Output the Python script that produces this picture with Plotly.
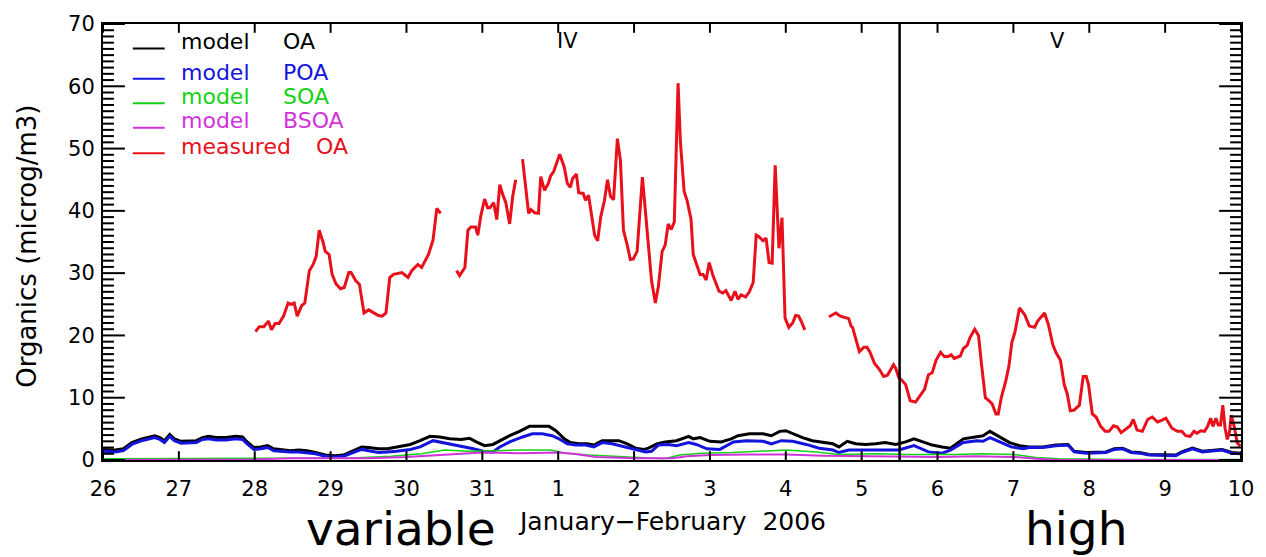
import plotly.graph_objects as go

# Time axis: days since 26 Jan 2006 00:00
tick_days = list(range(16))
tick_text = ["26", "27", "28", "29", "30", "31", "1", "2", "3", "4", "5", "6", "7", "8", "9", "10"]
y_major_step = 10
y_minor_values = list(range(0, 71))

# Measured OA (AMS), gaps marked with None
meas_day = [
    2.01, 2.06, 2.12, 2.18, 2.22, 2.27, 2.32, 2.38, 2.44, 2.48, 2.52, 2.56, 2.62, 2.66, 2.72, 2.77,
    2.81, 2.85, 2.90, 2.93, 2.98, 3.02, 3.07, 3.13, 3.18, 3.24, 3.27, 3.33, 3.38, 3.44, 3.50, 3.56,
    3.63, 3.68, 3.73, 3.78, 3.83, 3.94, 4.02, 4.07, 4.15, 4.20, 4.29, 4.35, 4.40, 4.45,
    4.55,
    4.66, 4.70, 4.77, 4.81, 4.85, 4.91, 4.94, 4.98, 5.03, 5.07, 5.10, 5.15, 5.19, 5.23, 5.27, 5.31,
    5.36, 5.40, 5.44,
    5.48,
    5.53, 5.61, 5.64, 5.69, 5.74, 5.77, 5.82, 5.87, 5.90, 5.94, 6.02, 6.08, 6.12, 6.16, 6.19, 6.24,
    6.27, 6.33, 6.36, 6.40, 6.48, 6.52, 6.56, 6.61, 6.65, 6.69, 6.73, 6.78, 6.82, 6.86, 6.91, 6.95,
    6.99, 7.04, 7.11, 7.18, 7.23, 7.28, 7.32, 7.37, 7.41, 7.45, 7.49, 7.53, 7.58, 7.61, 7.66, 7.70,
    7.75, 7.78, 7.82, 7.87, 7.91, 7.95, 7.99, 8.04, 8.12, 8.17, 8.21, 8.28, 8.33, 8.37, 8.41, 8.47,
    8.52, 8.57, 8.61, 8.65, 8.70, 8.74, 8.78, 8.82, 8.86, 8.91, 8.95, 8.99, 9.04, 9.09, 9.13, 9.17,
    9.21, 9.25,
    9.40,
    9.57, 9.66, 9.72, 9.79, 9.83, 9.86, 9.88, 9.97, 10.03, 10.07, 10.11, 10.17, 10.23, 10.29, 10.34,
    10.42, 10.45, 10.49, 10.53, 10.58, 10.64, 10.71, 10.77, 10.83, 10.88, 10.93, 10.98, 11.04, 11.09,
    11.14, 11.18, 11.22, 11.30, 11.34, 11.39, 11.43, 11.49, 11.54, 11.58, 11.63, 11.68, 11.72, 11.77,
    11.80, 11.84, 11.90, 11.94, 11.98, 12.02, 12.08, 12.15, 12.21, 12.28, 12.32, 12.41, 12.46, 12.52,
    12.56, 12.62, 12.67, 12.71, 12.75, 12.80, 12.87, 12.92, 12.96, 12.99, 13.04, 13.09, 13.15, 13.21,
    13.26, 13.32, 13.37, 13.42, 13.48, 13.54, 13.58, 13.63, 13.70, 13.77, 13.83, 13.90, 13.96, 14.01,
    14.05, 14.09, 14.16, 14.22, 14.27, 14.33, 14.38, 14.42, 14.47, 14.52, 14.56, 14.60, 14.63, 14.67,
    14.70, 14.73, 14.76, 14.79, 14.82, 14.85, 14.87, 14.91, 14.95, 14.99,
]
meas_oa = [
    20.6, 21.4, 21.4, 22.3, 20.9, 21.9, 21.9, 23.1, 25.2, 25.0, 25.2, 23.1, 24.8, 25.2, 30.4, 31.4,
    32.7, 36.9, 35.0, 33.5, 33.0, 29.8, 28.3, 27.5, 27.7, 30.1, 30.1, 28.8, 28.2, 23.6, 24.1, 23.7,
    23.2, 23.1, 23.6, 29.3, 29.8, 30.1, 29.3, 30.4, 31.4, 30.9, 33.0, 35.3, 40.4, 39.6,
    None,
    30.4, 29.6, 30.9, 36.9, 37.4, 37.4, 36.1, 39.2, 41.9, 40.5, 40.5, 41.3, 38.6, 44.2, 42.6, 41.3,
    37.9, 42.3, 45.0,
    None,
    48.3, 39.6, 40.2, 39.7, 39.6, 45.5, 43.3, 44.4, 45.6, 46.3, 49.1, 47.0, 44.4, 43.8, 45.2, 45.9,
    42.9, 42.8, 41.7, 42.5, 36.1, 35.2, 39.0, 41.7, 45.0, 42.3, 41.8, 51.6, 48.1, 36.9, 34.5, 32.2,
    32.3, 33.5, 45.4, 35.0, 28.8, 25.2, 27.8, 33.5, 34.5, 37.9, 37.0, 38.2, 60.5, 51.2, 43.1, 41.6,
    38.7, 33.0, 31.7, 29.8, 29.8, 28.9, 31.7, 29.6, 27.1, 26.8, 27.2, 25.6, 27.1, 25.8, 26.5, 26.2,
    27.0, 28.5, 36.1, 35.8, 35.2, 35.6, 31.7, 31.6, 47.3, 34.0, 38.9, 22.8, 21.3, 22.0, 23.2, 23.1,
    22.1, 20.9,
    None,
    23.0, 23.6, 23.1, 22.8, 22.7, 21.5, 21.3, 17.4, 18.1, 18.1, 17.3, 15.5, 14.6, 13.4, 13.6,
    15.3, 14.7, 13.2, 12.8, 12.1, 9.5, 9.3, 10.3, 11.4, 13.7, 14.0, 16.0, 17.3, 16.6,
    16.6, 16.9, 16.3, 16.7, 17.9, 18.4, 19.7, 21.0, 20.0, 15.3, 10.0, 9.5, 9.0, 7.4,
    7.4, 10.0, 12.7, 15.0, 18.9, 20.5, 24.4, 23.3, 21.5, 21.3, 22.3, 23.6, 21.8, 18.5,
    17.3, 16.0, 12.1, 10.6, 7.9, 8.0, 8.8, 13.4, 13.4, 12.1, 7.4, 6.9, 5.4, 4.6,
    4.6, 5.5, 5.3, 4.4, 4.9, 5.5, 6.5, 4.8, 4.6, 6.5, 6.9, 6.1, 6.4, 6.7,
    5.9, 5.1, 4.6, 4.6, 3.9, 3.8, 4.6, 4.3, 4.7, 4.6, 5.4, 6.7, 5.4, 6.7,
    5.6, 5.6, 8.8, 5.1, 3.3, 4.6, 7.2, 5.4, 2.8, 2.2,
]

# Model total OA
oa_day = [
    0.00, 0.16, 0.27, 0.38, 0.51, 0.59, 0.68, 0.75, 0.81, 0.88, 0.94, 1.03, 1.14, 1.23, 1.31, 1.39,
    1.49, 1.62, 1.75, 1.84, 1.90, 1.99, 2.08, 2.17, 2.25, 2.34, 2.47, 2.58, 2.69, 2.80, 2.93, 3.06,
    3.17, 3.28, 3.41, 3.50, 3.63, 3.75, 3.87, 4.05, 4.18, 4.31, 4.44, 4.57, 4.72, 4.83, 4.92, 5.03,
    5.14, 5.23, 5.36, 5.49, 5.62, 5.75, 5.88, 5.97, 6.08, 6.16, 6.27, 6.38, 6.47, 6.58, 6.69, 6.80,
    6.91, 7.02, 7.13, 7.19, 7.30, 7.41, 7.56, 7.72, 7.78, 7.87, 8.00, 8.15, 8.28, 8.37, 8.52, 8.70,
    8.81, 8.92, 9.00, 9.09, 9.22, 9.35, 9.48, 9.62, 9.70, 9.81, 9.92, 10.05, 10.18, 10.31, 10.45,
    10.58, 10.69, 10.80, 10.93, 11.06, 11.17, 11.34, 11.52, 11.60, 11.69, 11.82, 11.95, 12.08, 12.21,
    12.39, 12.56, 12.72, 12.80, 12.96, 13.09, 13.22, 13.33, 13.44, 13.55, 13.66, 13.79, 13.96, 14.14,
    14.22, 14.36, 14.49, 14.62, 14.75, 14.88, 15.00,
]
oa_model = [
    1.7, 1.6, 1.8, 2.8, 3.4, 3.6, 3.9, 3.6, 3.1, 4.1, 3.4, 3.0, 3.0, 3.1, 3.6, 3.8,
    3.6, 3.6, 3.8, 3.7, 2.9, 2.0, 2.1, 2.3, 1.8, 1.7, 1.5, 1.6, 1.5, 1.2, 0.8, 0.7,
    0.8, 1.4, 2.1, 2.0, 1.8, 1.8, 2.1, 2.5, 3.1, 3.8, 3.7, 3.4, 3.3, 3.5, 2.9, 2.3,
    2.5, 3.1, 3.9, 4.6, 5.4, 5.4, 5.4, 4.7, 3.4, 2.8, 2.6, 2.6, 2.4, 3.1, 3.1, 3.1,
    2.6, 1.9, 1.7, 1.9, 2.6, 2.9, 3.1, 3.8, 3.4, 3.6, 3.0, 2.9, 3.4, 3.9, 4.2, 4.2,
    3.9, 4.6, 4.7, 4.2, 3.6, 3.1, 2.9, 2.6, 2.1, 3.0, 2.6, 2.5, 2.6, 2.8, 2.5,
    2.9, 3.4, 2.9, 2.4, 2.1, 1.9, 3.4, 3.8, 3.9, 4.6, 3.7, 2.8, 2.3, 2.1,
    2.1, 2.4, 2.5, 1.4, 1.2, 1.2, 1.3, 1.8, 1.9, 1.3, 1.2, 0.9, 0.8, 0.8,
    1.3, 1.9, 1.4, 1.6, 1.7, 1.2, 1.1,
]

# Model primary OA
poa_day = [
    0.00, 0.16, 0.27, 0.38, 0.51, 0.59, 0.68, 0.75, 0.81, 0.88, 0.94, 1.03, 1.14, 1.23, 1.31, 1.39,
    1.49, 1.62, 1.75, 1.84, 1.90, 1.99, 2.08, 2.17, 2.25, 2.34, 2.47, 2.58, 2.69, 2.80, 2.93, 3.06,
    3.17, 3.28, 3.41, 3.50, 3.63, 3.75, 3.87, 4.05, 4.18, 4.35, 4.48, 4.61, 4.77, 4.88, 5.01, 5.14,
    5.23, 5.36, 5.53, 5.66, 5.79, 5.92, 6.01, 6.12, 6.23, 6.36, 6.47, 6.58, 6.71, 6.88, 7.02, 7.15,
    7.23, 7.32, 7.45, 7.56, 7.72, 7.82, 7.96, 8.13, 8.31, 8.48, 8.70, 8.81, 8.94, 9.09, 9.27, 9.44,
    9.62, 9.70, 9.83, 10.05, 10.27, 10.49, 10.69, 10.88, 11.06, 11.17, 11.34, 11.52, 11.60, 11.69,
    11.82, 11.97, 12.13, 12.21, 12.39, 12.56, 12.72, 12.80, 12.96, 13.09, 13.22, 13.33, 13.44, 13.55,
    13.66, 13.79, 13.96, 14.14, 14.22, 14.36, 14.49, 14.62, 14.75, 14.88, 15.00,
]
poa_model = [
    1.4, 1.3, 1.5, 2.5, 3.1, 3.3, 3.6, 3.3, 2.8, 3.8, 3.1, 2.7, 2.7, 2.8, 3.3, 3.4,
    3.2, 3.2, 3.4, 3.3, 2.6, 1.7, 1.8, 2.0, 1.5, 1.4, 1.3, 1.3, 1.2, 1.0, 0.6, 0.5,
    0.6, 1.1, 1.7, 1.5, 1.2, 1.3, 1.4, 1.7, 2.1, 3.1, 2.8, 2.5, 2.1, 1.8, 1.4, 1.3,
    2.1, 2.9, 3.7, 4.2, 4.2, 3.9, 3.4, 2.6, 2.4, 2.4, 2.1, 2.8, 2.6, 2.1, 1.6, 1.3,
    1.4, 2.4, 2.5, 2.3, 2.8, 2.5, 1.8, 1.7, 2.9, 3.1, 3.0, 2.6, 3.1, 3.0, 2.5, 1.9,
    1.6, 1.2, 1.6, 1.6, 1.7, 1.6, 2.3, 1.3, 1.1, 1.6, 2.8, 3.1, 3.0, 3.6,
    2.9, 2.1, 1.8, 2.0, 2.0, 2.3, 2.4, 1.3, 1.1, 1.1, 1.2, 1.7, 1.8, 1.2,
    1.1, 0.8, 0.7, 0.7, 1.2, 1.8, 1.3, 1.5, 1.6, 1.1, 1.0,
]

# Model secondary OA
soa_day = [0.0, 1.5, 2.5, 3.2, 3.8, 4.2, 4.5, 4.8, 5.2, 5.5, 5.9, 6.1, 6.4, 6.8, 7.1, 7.4,
           7.6, 7.9, 8.3, 8.7, 9.0, 9.4, 9.7, 10.2, 10.6, 11.2, 11.6, 12.0, 12.3, 12.6, 13.5, 15.0]
soa_model = [0.2, 0.2, 0.3, 0.3, 0.6, 1.0, 1.6, 1.4, 1.5, 1.6, 1.6, 1.1, 0.8, 0.6, 0.4, 0.2,
             0.8, 1.1, 1.2, 1.4, 1.6, 1.3, 0.9, 1.0, 0.9, 0.9, 1.0, 0.9, 0.4, 0.2, 0.1, 0.1]

# Model biogenic SOA
bsoa_day = [0.0, 2.0, 2.5, 3.0, 3.5, 4.0, 4.4, 5.0, 5.5, 6.0, 6.2, 6.5, 7.0, 7.5, 7.7, 8.0,
            8.5, 9.0, 9.5, 10.0, 10.5, 11.0, 11.5, 12.0, 12.3, 12.6, 15.0]
bsoa_model = [0.0, 0.1, 0.3, 0.3, 0.3, 0.5, 0.8, 1.2, 1.1, 1.2, 1.0, 0.5, 0.3, 0.3, 0.6, 0.8,
              0.9, 0.9, 0.7, 0.6, 0.5, 0.5, 0.6, 0.5, 0.2, 0.0, 0.0]

# Boundary between periods IV and V (5 Feb, 12:00)
period_break = 10.5
period_labels = ["IV", "V"]
period_label_day = [6.12, 12.58]

FONT = "DejaVu Sans, Verdana, sans-serif"
W, H = 1266, 557
ML, MR, MT, MB = 103, 19, 15, 97
PW, PH = W - ML - MR, H - MT - MB
X_RANGE = (0, 15)
Y_RANGE = (0, 70)
# data units per pixel along each axis
DX_PER_PX = (X_RANGE[1] - X_RANGE[0]) / PW
DY_PER_PX = (Y_RANGE[1] - Y_RANGE[0]) / PH


def px_x(px):
    """Pixel column -> paper x."""
    return (px - ML) / PW


def px_y(py):
    """Pixel row -> paper y."""
    return (H - MB - py) / PH


fig = go.Figure()
series = [
    (oa_day, oa_model, ("model", "OA"), "#000000", 3),
    (poa_day, poa_model, ("model", "POA"), "#1414dc", 3),
    (soa_day, soa_model, ("model", "SOA"), "#14d214", 1.5),
    (bsoa_day, bsoa_model, ("model", "BSOA"), "#d232dc", 2),
    (meas_day, meas_oa, ("measured", "OA"), "#e8101a", 3),
]
for xs, ys, words, color, w in series:
    fig.add_trace(go.Scatter(
        x=xs, y=ys, mode="lines", connectgaps=False, name=" ".join(words), showlegend=False,
        line=dict(color=color, width=w),
    ))

# Inward tick marks on all four sides of the frame, built from the tick lists
tx, ty = [], []
x_len = 9 * DY_PER_PX
for d in tick_days:
    tx += [d, d, None, d, d, None]
    ty += [Y_RANGE[0], Y_RANGE[0] + x_len, None, Y_RANGE[1], Y_RANGE[1] - x_len, None]
for v in y_minor_values:
    y_len = (22 if v % y_major_step == 0 else 11) * DX_PER_PX
    tx += [X_RANGE[0], X_RANGE[0] + y_len, None, X_RANGE[1], X_RANGE[1] - y_len, None]
    ty += [v, v, None, v, v, None]
fig.add_trace(go.Scatter(x=tx, y=ty, mode="lines", showlegend=False, hoverinfo="skip",
                         line=dict(color="black", width=2), cliponaxis=False))

# Key in the upper-left corner: short line sample + coloured two-word label per series
key_rows = [33, 64, 89, 114, 140]
for (xs, ys, words, color, w), row in zip(series, key_rows):
    fig.add_shape(type="line", xref="paper", yref="paper",
                  x0=px_x(133), x1=px_x(165), y0=px_y(row + 7), y1=px_y(row + 7),
                  line=dict(color=color, width=2))
    second_x = 282 if words[0] == "model" else 315
    for word, wx in zip(words, (179, second_x)):
        fig.add_annotation(text=word, xref="paper", yref="paper", x=px_x(wx), y=px_y(row),
                           xanchor="left", yanchor="middle", showarrow=False,
                           font=dict(family=FONT, size=22, color=color))

fig.add_shape(type="line", xref="x", yref="y", x0=period_break, x1=period_break,
              y0=Y_RANGE[0], y1=Y_RANGE[1], line=dict(color="black", width=2.5))

for lab, d in zip(period_labels, period_label_day):
    fig.add_annotation(x=d, y=67.3, xref="x", yref="y", text=lab, showarrow=False,
                       font=dict(family=FONT, size=21, color="black"))

fig.add_annotation(text="Organics (microg/m3)", textangle=-90, xref="paper", yref="paper",
                   x=px_x(27), y=px_y(242), xanchor="center", yanchor="middle", showarrow=False,
                   font=dict(family=FONT, size=26, color="black"))
fig.add_annotation(text="January\u2212February  2006", xref="paper", yref="paper",
                   x=px_x(675), y=px_y(523), xanchor="center", yanchor="middle", showarrow=False,
                   font=dict(family=FONT, size=25, color="black"))
for word, cx in [("variable", 403), ("high", 1081)]:
    fig.add_annotation(text=word, xref="paper", yref="paper", x=px_x(cx), y=px_y(530),
                       xanchor="center", yanchor="middle", showarrow=False,
                       font=dict(family="Comic Sans MS, DejaVu Sans, sans-serif", size=47, color="black"))

fig.update_layout(
    width=W, height=H,
    margin=dict(l=ML, r=MR, t=MT, b=MB),
    plot_bgcolor="white", paper_bgcolor="white",
    showlegend=False,
    xaxis=dict(
        range=list(X_RANGE), tickvals=tick_days, ticktext=tick_text, ticks="",
        showline=True, linecolor="black", linewidth=2, mirror=True,
        showgrid=False, zeroline=False, ticklabelstandoff=9,
        tickfont=dict(family=FONT, size=21, color="black"),
    ),
    yaxis=dict(
        range=list(Y_RANGE), dtick=y_major_step, ticks="",
        showline=True, linecolor="black", linewidth=2, mirror=True,
        showgrid=False, zeroline=False, ticklabelstandoff=2,
        tickfont=dict(family=FONT, size=21, color="black"),
    ),
)

fig.write_html("out.html")
